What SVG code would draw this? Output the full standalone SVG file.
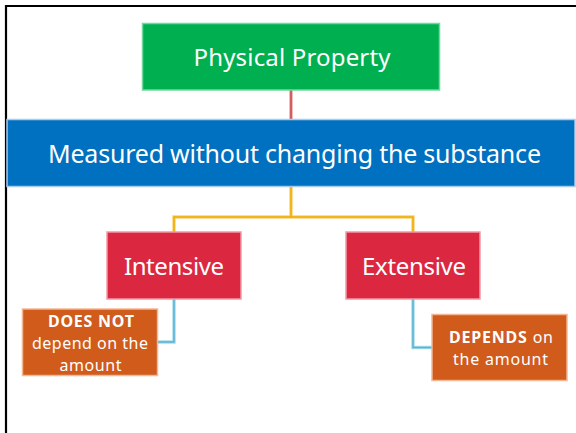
<svg xmlns="http://www.w3.org/2000/svg" width="576" height="433" viewBox="0 0 576 433">
<style>
.t{font-family:"Noto Sans","Open Sans","DejaVu Sans",sans-serif;fill:#ffffff;text-anchor:middle}
.big{font-size:24px}
.mid{font-size:25px}
.sm{font-size:16px}
.b{font-weight:bold}
.green{fill:#00b050;stroke:#72d89e;stroke-width:1.5}
.blue{fill:#0070c0;stroke:#a9cbea;stroke-width:1.5}
.red{fill:#dc2740;stroke:#f09aa6;stroke-width:1.5}
.orange{fill:#d05b1b;stroke:#f2b795;stroke-width:1.5}
.oy{fill:none;stroke:#f9d478;stroke-width:3.5}
.iy{fill:none;stroke:#eeac00;stroke-width:1.5}
.or{fill:none;stroke:#eaa5a5;stroke-width:3.5}
.ir{fill:none;stroke:#c84848;stroke-width:1.5}
.ob{fill:none;stroke:#a9dcec;stroke-width:3.5}
.ib{fill:none;stroke:#58b2d2;stroke-width:1.5}
.frame{fill:none;stroke:#000000;stroke-width:2.2}
</style>
<rect x="0" y="0" width="576" height="433" fill="#ffffff"/>
<path class="frame" d="M6,433 V6 H576"/>
<g id="connectors">
  <path class="or" d="M291,90 V119"/>
  <path class="ir" d="M291,90 V119"/>
  <path class="oy" d="M291,187 V217 H174 V232 M291,217 H413 V232"/>
  <path class="iy" d="M291,187 V217 H174 V232 M291,217 H413 V232"/>
  <path class="ob" d="M174,299 V342 H158"/>
  <path class="ib" d="M174,299 V342 H158"/>
  <path class="ob" d="M413,299 V347.5 H432"/>
  <path class="ib" d="M413,299 V347.5 H432"/>
</g>
<g id="physical-property">
  <rect class="green" x="142.5" y="23.5" width="297" height="66.5"/>
  <text class="t big" x="292" y="65.5" textLength="197" lengthAdjust="spacing">Physical Property</text>
</g>
<g id="measured">
  <rect class="blue" x="7" y="119.5" width="568" height="67"/>
  <text class="t mid" x="294.5" y="162.5" textLength="493" lengthAdjust="spacing">Measured without changing the substance</text>
</g>
<g id="intensive">
  <rect class="red" x="107" y="232" width="134" height="67"/>
  <text class="t big" x="174" y="274.5" textLength="100" lengthAdjust="spacing">Intensive</text>
</g>
<g id="extensive">
  <rect class="red" x="346" y="232" width="134" height="67"/>
  <text class="t big" x="414" y="274.5" textLength="104" lengthAdjust="spacing">Extensive</text>
</g>
<g id="does-not">
  <rect class="orange" x="22.5" y="309" width="135" height="66.5"/>
  <text class="t sm b" x="91" y="326.7" textLength="86" lengthAdjust="spacing">DOES NOT</text>
  <text class="t sm" x="90" y="349" textLength="116" lengthAdjust="spacing">depend on the</text>
  <text class="t sm" x="90.5" y="371" textLength="62" lengthAdjust="spacing">amount</text>
</g>
<g id="depends">
  <rect class="orange" x="432" y="314.5" width="135" height="66"/>
  <text class="t sm" x="501" y="342.7" textLength="104" lengthAdjust="spacing"><tspan class="b">DEPENDS</tspan> on</text>
  <text class="t sm" x="500.5" y="365" textLength="95" lengthAdjust="spacing">the amount</text>
</g>
</svg>
